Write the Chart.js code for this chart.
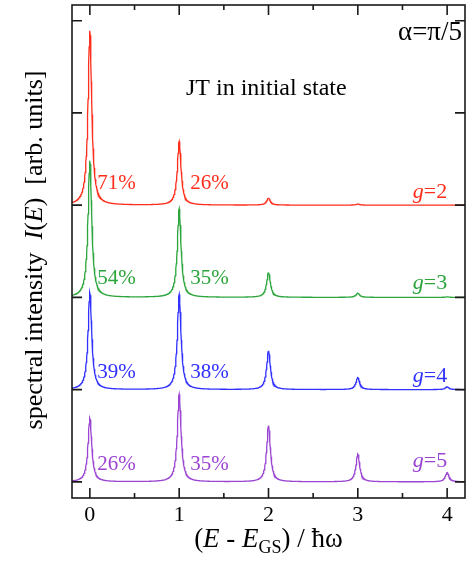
<!DOCTYPE html>
<html><head><meta charset="utf-8">
<script src="https://cdn.jsdelivr.net/npm/chart.js@4"></script>
<style>html,body{margin:0;padding:0;background:#fff}</style>
</head><body>
<canvas id="c" width="466" height="561"></canvas>
<script>
// ---- data ----
const peakPositions = [0, 1, 2, 3, 4];          // (E - E_GS)/ħω
const seriesNames   = ['g=2', 'g=3', 'g=4', 'g=5'];
const seriesOffsets = [3, 2, 1, 0];              // vertical stacking offsets
const heightsG2 = [1.89, 0.69, 0.075, 0.012, 0.0];
const heightsG3 = [1.48, 0.96, 0.27, 0.045, 0.006];
const heightsG4 = [1.05, 1.03, 0.42, 0.13, 0.03];
const heightsG5 = [0.69, 0.95, 0.61, 0.30, 0.10];
const weightLabels0 = ['71%', '54%', '39%', '26%'];   // weight of peak 0
const weightLabels1 = ['26%', '35%', '38%', '35%'];   // weight of peak 1
const xTicks = [0, 1, 2, 3, 4];
const xMinorTicks = [0.5, 1.5, 2.5, 3.5];
const yTicks = [0, 1, 2, 3, 4, 5];
const seriesColors = ['#ff2e1c', '#2ca63c', '#3030ff', '#9b45d2'];
const pctLabelLift = [0.17, 0.14, 0.125, 0.13];
const gLabelLift   = [0.08, 0.09, 0.08, 0.16];

const allHeights = [heightsG2, heightsG3, heightsG4, heightsG5];
const gamma = 0.025; // Lorentzian half-width (line broadening)

function spectrum(heights, offset) {
  const pts = [];
  for (let i = 0; i <= 1100; i++) {
    const x = Math.round((-0.2 + i * 0.004) * 1000) / 1000;
    let y = offset;
    heights.forEach((h, k) => {
      const d = x - peakPositions[k];
      y += h * gamma * gamma / (d * d + gamma * gamma);
    });
    pts.push({x, y});
  }
  return pts;
}

const datasets = allHeights.map((h, i) => ({
  label: seriesNames[i],
  data: spectrum(h, seriesOffsets[i]),
  borderColor: seriesColors[i],
  borderWidth: 1.3,
  pointRadius: 0,
  fill: false,
  tension: 0,
  order: 4 - i
}));

const SERIF = '"Liberation Serif", "Times New Roman", serif';

function drawRich(ctx, segs, x, y) {
  let cx = x;
  segs.forEach(s => {
    ctx.font = (s.it ? 'italic ' : '') + s.size + 'px ' + SERIF;
    ctx.fillText(s.t, cx, y + (s.dy || 0));
    cx += ctx.measureText(s.t).width;
  });
}
function richWidth(ctx, segs) {
  let w = 0;
  segs.forEach(s => {
    ctx.font = (s.it ? 'italic ' : '') + s.size + 'px ' + SERIF;
    w += ctx.measureText(s.t).width;
  });
  return w;
}

const framePlugin = {
  id: 'frame',
  afterDatasetsDraw(chart) {
    const ctx = chart.ctx, ca = chart.chartArea;
    const xs = chart.scales.x, ys = chart.scales.y;
    ctx.save();
    ctx.strokeStyle = '#1a1a1a';
    ctx.lineWidth = 1.6;
    ctx.beginPath();
    xTicks.forEach(v => {
      const p = xs.getPixelForValue(v);
      ctx.moveTo(p, ca.bottom); ctx.lineTo(p, ca.bottom - 10);
      ctx.moveTo(p, ca.top); ctx.lineTo(p, ca.top + 10);
    });
    xMinorTicks.forEach(v => {
      const p = xs.getPixelForValue(v);
      ctx.moveTo(p, ca.bottom); ctx.lineTo(p, ca.bottom - 5);
      ctx.moveTo(p, ca.top); ctx.lineTo(p, ca.top + 5);
    });
    yTicks.forEach(v => {
      const p = ys.getPixelForValue(v);
      ctx.moveTo(ca.left, p); ctx.lineTo(ca.left + 10, p);
      ctx.moveTo(ca.right, p); ctx.lineTo(ca.right - 10, p);
    });
    ctx.stroke();
    ctx.strokeRect(ca.left, ca.top, ca.right - ca.left, ca.bottom - ca.top);

    // series labels
    ctx.textBaseline = 'alphabetic';
    seriesNames.forEach((name, i) => {
      ctx.fillStyle = seriesColors[i];
      ctx.font = '21px ' + SERIF;
      ctx.textAlign = 'left';
      const yb = ys.getPixelForValue(seriesOffsets[i] + pctLabelLift[i]);
      ctx.fillText(weightLabels0[i], xs.getPixelForValue(0.083), yb);
      ctx.fillText(weightLabels1[i], xs.getPixelForValue(1.125), yb);
      const yg = ys.getPixelForValue(seriesOffsets[i] + gLabelLift[i]);
      const parts = name.split('=');
      const segs = [{t: parts[0], it: true, size: 22}, {t: '=' + parts[1], it: false, size: 22}];
      const w = richWidth(ctx, segs);
      drawRich(ctx, segs, xs.getPixelForValue(4.0) - w, yg);
    });

    ctx.fillStyle = '#000';
    ctx.textAlign = 'left';
    ctx.font = '24px ' + SERIF;
    ctx.fillText('JT in initial state', 186, 95);
    ctx.textAlign = 'right';
    ctx.font = '27px ' + SERIF;
    ctx.fillText('α=π/5', 462, 40);
    ctx.textAlign = 'left';

    // y title
    const ySegs = [
      {t: 'spectral intensity  ', size: 26},
      {t: 'I', it: true, size: 26},
      {t: '(', size: 26},
      {t: 'E', it: true, size: 26},
      {t: ')', size: 26},
      {t: '  [arb. units]', size: 26}
    ];
    ctx.save();
    ctx.translate(41.5, 250);
    ctx.rotate(-Math.PI / 2);
    drawRich(ctx, ySegs, -richWidth(ctx, ySegs) / 2, 0);
    ctx.restore();

    // x title
    const xSegs = [
      {t: '(', size: 27},
      {t: 'E', it: true, size: 27},
      {t: ' - ', size: 27},
      {t: 'E', it: true, size: 27},
      {t: 'GS', size: 18, dy: 6},
      {t: ') / ħω', size: 27}
    ];
    const cx = (ca.left + ca.right) / 2;
    drawRich(ctx, xSegs, cx - richWidth(ctx, xSegs) / 2, 547);
    ctx.restore();
  }
};

new Chart(document.getElementById('c'), {
  type: 'line',
  data: {datasets},
  options: {
    responsive: false,
    animation: false,
    layout: {padding: {top: 5, right: 1, left: 0, bottom: 0}},
    plugins: {legend: {display: false}, tooltip: {enabled: false}},
    scales: {
      x: {
        type: 'linear', min: -0.2, max: 4.2,
        afterBuildTicks: s => { s.ticks = xTicks.map(v => ({value: v})); },
        ticks: {font: {family: SERIF, size: 22}, color: '#000', padding: 4, maxRotation: 0,
                callback: v => String(v)},
        grid: {display: false, drawTicks: false},
        border: {display: false},
        afterFit: s => { s.height = 63; }
      },
      y: {
        type: 'linear', min: -0.175, max: 5.17,
        afterBuildTicks: s => { s.ticks = yTicks.map(v => ({value: v})); },
        ticks: {display: false},
        grid: {display: false, drawTicks: false},
        border: {display: false},
        afterFit: s => { s.width = 72; }
      }
    }
  },
  plugins: [framePlugin]
});
</script>
</body></html>
